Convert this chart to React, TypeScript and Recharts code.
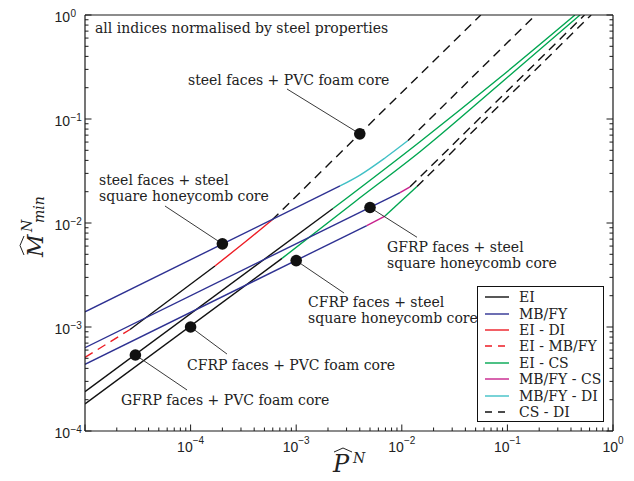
import React from 'react';
import { ComposedChart, Line, Scatter, XAxis, YAxis, Legend, Label } from 'recharts';

// ---------- axis ticks ----------
const xMajorTicks = [1e-5, 1e-4, 1e-3, 1e-2, 1e-1, 1];
const xTickExponents = ['', '−4', '−3', '−2', '−1', '0'];
const yMajorTicks = [1e-4, 1e-3, 1e-2, 1e-1, 1];
const yTickExponents = ['−4', '−3', '−2', '−1', '0'];
const minorMultipliers = [2, 3, 4, 5, 6, 7, 8, 9];

// ---------- steel faces + PVC foam core ----------
const steelPvcEiMbfy = [{ x: 1e-5, y: 5.1e-4 }, { x: 2.67e-5, y: 9.46e-4 }];
const steelPvcEi = [{ x: 2.67e-5, y: 9.46e-4 }, { x: 1.7e-4, y: 3.86e-3 }];
const steelPvcEiDi = [{ x: 1.7e-4, y: 3.86e-3 }, { x: 3.17e-4, y: 6.38e-3 }, { x: 5.9e-4, y: 1.07e-2 }];
const steelPvcCsDi = [{ x: 5.9e-4, y: 1.07e-2 }, { x: 0.056, y: 1 }];

// ---------- steel faces + steel square honeycomb core ----------
const steelHcMbfy = [{ x: 1e-5, y: 1.4e-3 }, { x: 2.6e-3, y: 2.27e-2 }];
const steelHcMbfyDi = [{ x: 2.6e-3, y: 2.27e-2 }, { x: 4.02e-3, y: 2.89e-2 }, { x: 6.93e-3, y: 4.22e-2 }, { x: 1.146e-2, y: 6.21e-2 }];
const steelHcCsDi = [{ x: 1.146e-2, y: 6.21e-2 }, { x: 0.1845, y: 1 }];

// ---------- GFRP faces + PVC foam core ----------
const gfrpPvcEi = [{ x: 1e-5, y: 2.39e-4 }, { x: 2.23e-3, y: 1.377e-2 }];
const gfrpPvcEiCs = [{ x: 2.23e-3, y: 1.377e-2 }, { x: 1.486e-2, y: 6.05e-2 }, { x: 8.51e-2, y: 0.2506 }, { x: 0.4365, y: 1 }];

// ---------- CFRP faces + PVC foam core ----------
const cfrpPvcEi = [{ x: 1e-5, y: 1.82e-4 }, { x: 7.34e-4, y: 4.57e-3 }];
const cfrpPvcEiCs = [{ x: 7.34e-4, y: 4.57e-3 }, { x: 3.6e-3, y: 1.603e-2 }, { x: 1.486e-2, y: 4.85e-2 }, { x: 8.51e-2, y: 0.2185 }, { x: 0.487, y: 1 }];

// ---------- GFRP faces + steel square honeycomb core ----------
const gfrpHcMbfy = [{ x: 1e-5, y: 6.32e-4 }, { x: 9.62e-3, y: 1.96e-2 }];
const gfrpHcMbfyCs = [{ x: 9.62e-3, y: 1.96e-2 }, { x: 1.197e-2, y: 2.23e-2 }];
const gfrpHcCsDi = [{ x: 1.197e-2, y: 2.23e-2 }, { x: 0.537, y: 1 }];

// ---------- CFRP faces + steel square honeycomb core ----------
const cfrpHcMbfy = [{ x: 1e-5, y: 4.38e-4 }, { x: 4.66e-3, y: 9.44e-3 }];
const cfrpHcMbfyCs = [{ x: 4.66e-3, y: 9.44e-3 }, { x: 6.93e-3, y: 1.167e-2 }];
const cfrpHcEiCs = [{ x: 6.93e-3, y: 1.167e-2 }, { x: 1.393e-2, y: 2.244e-2 }];
const cfrpHcCsDi = [{ x: 1.393e-2, y: 2.244e-2 }, { x: 0.621, y: 1 }];

// ---------- design points (dots) ----------
const designPoints = [
  { x: 4e-3, y: 0.072 },
  { x: 2e-4, y: 6.3e-3 },
  { x: 5e-3, y: 1.41e-2 },
  { x: 1e-3, y: 4.35e-3 },
  { x: 1e-4, y: 1e-3 },
  { x: 3e-5, y: 5.38e-4 },
];
// leader line ends (near the labels), same order as designPoints
const leaderEnds = [
  { x: 8.18e-4, y: 0.1943 },
  { x: 5.72e-5, y: 0.01457 },
  { x: 1.393e-2, y: 7.29e-3 },
  { x: 2.84e-3, y: 2.12e-3 },
  { x: 2.21e-4, y: 5.5e-4 },
  { x: 9.25e-5, y: 2.48e-4 },
];

// ---------- text annotations (left / baseline) ----------
const annotations = [
  { x: 1.244e-5, y: 0.671, lines: ['all indices normalised by steel properties'] },
  { x: 9.44e-5, y: 0.2123, lines: ['steel faces + PVC foam core'] },
  { x: 1.357e-5, y: 0.02318, lines: ['steel faces + steel', 'square honeycomb core'] },
  { x: 7.24e-3, y: 5.26e-3, lines: ['GFRP faces + steel', 'square honeycomb core'] },
  { x: 1.294e-3, y: 1.54e-3, lines: ['CFRP faces + steel', 'square honeycomb core'] },
  { x: 9.25e-5, y: 3.9e-4, lines: ['CFRP faces + PVC foam core'] },
  { x: 2.19e-5, y: 1.778e-4, lines: ['GFRP faces + PVC foam core'] },
];

const legendItems = ['EI', 'MB/FY', 'EI - DI', 'EI - MB/FY', 'EI - CS', 'MB/FY - CS', 'MB/FY - DI', 'CS - DI'];

const styles: Record<string, { stroke: string; dash?: string }> = {
  'EI': { stroke: '#111111' },
  'MB/FY': { stroke: '#2e3192' },
  'EI - DI': { stroke: '#ed1c24' },
  'EI - MB/FY': { stroke: '#ed1c24', dash: '9 6' },
  'EI - CS': { stroke: '#00a651' },
  'MB/FY - CS': { stroke: '#c8218c' },
  'MB/FY - DI': { stroke: '#40c0c6' },
  'CS - DI': { stroke: '#111111', dash: '9 6' },
};

const segments = [
  { id: 'sp1', kind: 'EI - MB/FY', data: steelPvcEiMbfy },
  { id: 'sp2', kind: 'EI', data: steelPvcEi },
  { id: 'sp3', kind: 'EI - DI', data: steelPvcEiDi, curve: true },
  { id: 'sp4', kind: 'CS - DI', data: steelPvcCsDi },
  { id: 'sh1', kind: 'MB/FY', data: steelHcMbfy },
  { id: 'sh2', kind: 'MB/FY - DI', data: steelHcMbfyDi, curve: true },
  { id: 'sh3', kind: 'CS - DI', data: steelHcCsDi },
  { id: 'gp1', kind: 'EI', data: gfrpPvcEi },
  { id: 'gp2', kind: 'EI - CS', data: gfrpPvcEiCs, curve: true },
  { id: 'cp1', kind: 'EI', data: cfrpPvcEi },
  { id: 'cp2', kind: 'EI - CS', data: cfrpPvcEiCs, curve: true },
  { id: 'gh1', kind: 'MB/FY', data: gfrpHcMbfy },
  { id: 'gh2', kind: 'MB/FY - CS', data: gfrpHcMbfyCs },
  { id: 'gh3', kind: 'CS - DI', data: gfrpHcCsDi },
  { id: 'ch1', kind: 'MB/FY', data: cfrpHcMbfy },
  { id: 'ch2', kind: 'MB/FY - CS', data: cfrpHcMbfyCs },
  { id: 'ch3', kind: 'EI - CS', data: cfrpHcEiCs },
  { id: 'ch4', kind: 'CS - DI', data: cfrpHcCsDi },
];

const withMinor = (majors: number[]) =>
  majors.flatMap((m, i) => (i < majors.length - 1 ? [m, ...minorMultipliers.map((k) => k * m)] : [m]));

const xTicks = withMinor(xMajorTicks);
const yTicks = withMinor(yMajorTicks);

const AX = '#1a1a1a';
const SANS = 'Liberation Sans, Arial, Helvetica, sans-serif';
const SERIF = 'DejaVu Serif, serif';
const MAJOR_LEN = 6.5;
const MINOR_LEN = 3.5;

const majorIndex = (majors: number[], v: number) => majors.findIndex((m) => Math.abs(m - v) / m < 1e-9);

const BottomTick = (p: any) => {
  const v = p.payload.value;
  const mi = majorIndex(xMajorTicks, v);
  const len = mi >= 0 ? MAJOR_LEN : MINOR_LEN;
  return (
    <g>
      <line x1={p.x} y1={p.y} x2={p.x} y2={p.y - len} stroke={AX} strokeWidth={1} />
      {mi >= 0 && xTickExponents[mi] !== '' && (
        <text x={p.x} y={p.y + 21} textAnchor="middle" fontFamily={SANS} fontSize={14} fill="#222">
          10<tspan dy={-8} fontSize={10}>{xTickExponents[mi]}</tspan>
        </text>
      )}
    </g>
  );
};

const TopTick = (p: any) => {
  const v = p.payload.value;
  const len = majorIndex(xMajorTicks, v) >= 0 ? MAJOR_LEN : MINOR_LEN;
  return <line x1={p.x} y1={p.y} x2={p.x} y2={p.y + len} stroke={AX} strokeWidth={1} />;
};

const LeftTick = (p: any) => {
  const v = p.payload.value;
  const mi = majorIndex(yMajorTicks, v);
  const len = mi >= 0 ? MAJOR_LEN : MINOR_LEN;
  return (
    <g>
      <line x1={p.x} y1={p.y} x2={p.x + len} y2={p.y} stroke={AX} strokeWidth={1} />
      {mi >= 0 && (
        <g>
          <text x={p.x - 15} y={p.y + 6.5} textAnchor="end" fontFamily={SANS} fontSize={14} fill="#222">10</text>
          <text x={p.x - 14.5} y={p.y + 1.5} textAnchor="start" fontFamily={SANS} fontSize={10} fill="#222">{yTickExponents[mi]}</text>
        </g>
      )}
    </g>
  );
};

const RightTick = (p: any) => {
  const v = p.payload.value;
  const len = majorIndex(yMajorTicks, v) >= 0 ? MAJOR_LEN : MINOR_LEN;
  return <line x1={p.x} y1={p.y} x2={p.x - len} y2={p.y} stroke={AX} strokeWidth={1} />;
};

const XLabel = (props: any) => {
  const vb = props.viewBox;
  const left = vb.x + vb.width / 2 - 16;
  const base = vb.y + 41;
  return (
    <g transform={`translate(${left},${base})`}>
      <path d="M1,-20 L10,-24 L19,-20" fill="none" stroke="#222" strokeWidth={1} />
      <text x={0} y={0} fontFamily={SERIF} fontStyle="italic" fontSize={24} fill="#222">P</text>
      <text x={20} y={-9} fontFamily={SERIF} fontStyle="italic" fontSize={14} fill="#222">N</text>
    </g>
  );
};

const YLabel = (props: any) => {
  const vb = props.viewBox;
  const tx = vb.x + 8;
  const ty = vb.y + vb.height / 2 + 34;
  return (
    <g transform={`translate(${tx},${ty}) rotate(-90)`}>
      <path d="M2,-19 L11.5,-23 L21,-19" fill="none" stroke="#222" strokeWidth={1} />
      <text x={0} y={0} fontFamily={SERIF} fontStyle="italic" fontSize={22} fill="#222">M</text>
      <text x={25} y={-11} fontFamily={SERIF} fontStyle="italic" fontSize={14} fill="#222">N</text>
      <text x={34} y={1} fontFamily={SERIF} fontStyle="italic" fontSize={14} fill="#222">min</text>
    </g>
  );
};

const DotShape = (p: any) => <circle cx={p.cx} cy={p.cy} r={5.8} fill="#111" />;

const TextShape = (p: any) => {
  const lines: string[] = p.payload.lines;
  return (
    <text x={p.cx} y={p.cy} fontFamily={SERIF} fontSize={14} fill="#222">
      {lines.map((l, i) => (
        <tspan key={i} x={p.cx} dy={i === 0 ? 0 : 15.5}>{l}</tspan>
      ))}
    </text>
  );
};

const LegendBox = () => (
  <div
    style={{
      border: '1.3px solid #111',
      background: '#fff',
      width: 127,
      padding: '2px 0 1px 0',
      boxSizing: 'border-box',
    }}
  >
    {legendItems.map((name) => {
      const s = styles[name];
      return (
        <div key={name} style={{ height: 16.4, display: 'flex', alignItems: 'center' }}>
          <svg width={41} height={10} style={{ flex: 'none' }}>
            <line x1={7} x2={31} y1={5} y2={5} stroke={s.stroke} strokeWidth={1.4} strokeDasharray={s.dash ? '7 6' : undefined} />
          </svg>
          <span style={{ fontFamily: SERIF, fontSize: 14, lineHeight: '16px', color: '#222', whiteSpace: 'nowrap' }}>{name}</span>
        </div>
      );
    })}
  </div>
);

export default function App() {
  return (
    <div style={{ width: 618, height: 473 }}>
      <ComposedChart width={618} height={473} margin={{ top: 2, right: 8, bottom: 20, left: 27 }}>
        <XAxis
          dataKey="x"
          type="number"
          scale="log"
          domain={[1e-5, 1]}
          allowDataOverflow
          ticks={xTicks}
          interval={0}
          tick={<BottomTick />}
          tickLine={false}
          tickSize={0}
          tickMargin={0}
          height={30}
          axisLine={{ stroke: AX, strokeWidth: 1.2 }}
        >
          <Label content={<XLabel />} />
        </XAxis>
        <XAxis
          xAxisId="top"
          orientation="top"
          type="number"
          scale="log"
          domain={[1e-5, 1]}
          allowDataOverflow
          ticks={xTicks}
          interval={0}
          tick={<TopTick />}
          tickLine={false}
          tickSize={0}
          tickMargin={0}
          height={5}
          axisLine={{ stroke: AX, strokeWidth: 1.2 }}
        />
        <YAxis
          dataKey="y"
          type="number"
          scale="log"
          domain={[1e-4, 1]}
          allowDataOverflow
          ticks={yTicks}
          interval={0}
          tick={<LeftTick />}
          tickLine={false}
          tickSize={0}
          tickMargin={0}
          width={50}
          axisLine={{ stroke: AX, strokeWidth: 1.2 }}
        >
          <Label content={<YLabel />} />
        </YAxis>
        <YAxis
          yAxisId="right"
          orientation="right"
          type="number"
          scale="log"
          domain={[1e-4, 1]}
          allowDataOverflow
          ticks={yTicks}
          interval={0}
          tick={<RightTick />}
          tickLine={false}
          tickSize={0}
          tickMargin={0}
          width={5}
          axisLine={{ stroke: AX, strokeWidth: 1.2 }}
        />
        {segments.map((s) => (
          <Line
            key={s.id}
            data={s.data}
            dataKey="y"
            type={s.curve ? 'monotone' : 'linear'}
            stroke={styles[s.kind].stroke}
            strokeWidth={1.4}
            strokeDasharray={styles[s.kind].dash}
            dot={false}
            activeDot={false}
            legendType="none"
            isAnimationActive={false}
          />
        ))}
        {designPoints.map((d, i) => (
          <Line
            key={'leader' + i}
            data={[d, leaderEnds[i]]}
            dataKey="y"
            type="linear"
            stroke="#222"
            strokeWidth={0.9}
            dot={false}
            activeDot={false}
            legendType="none"
            isAnimationActive={false}
          />
        ))}
        <Scatter data={designPoints} shape={<DotShape />} legendType="none" isAnimationActive={false} />
        <Scatter data={annotations} shape={<TextShape />} legendType="none" isAnimationActive={false} />
        <Legend
          content={<LegendBox />}
          layout="vertical"
          align="center"
          verticalAlign="middle"
          wrapperStyle={{ left: 469, top: 278, width: 127, height: 136 }}
        />
      </ComposedChart>
    </div>
  );
}
